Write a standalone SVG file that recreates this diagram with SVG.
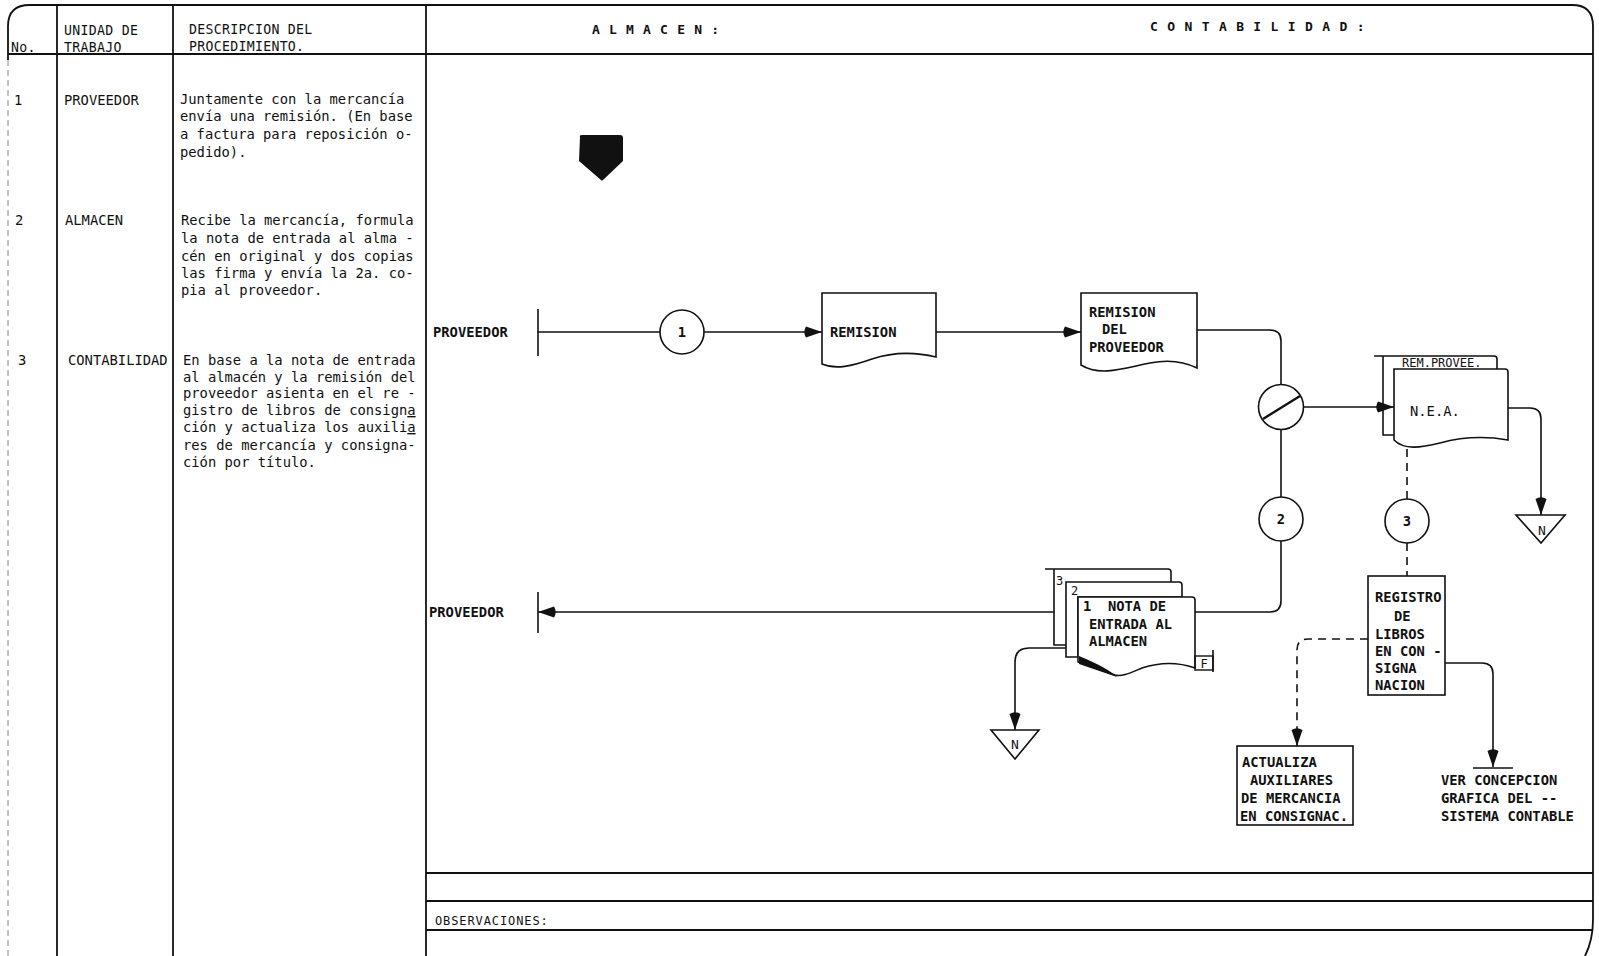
<svg xmlns="http://www.w3.org/2000/svg" width="1599" height="956" viewBox="0 0 1599 956">
<style>
.t{font-family:"DejaVu Sans Mono","Liberation Mono",monospace;font-size:13.8px;letter-spacing:0;fill:#111}
.s{font-size:12px}
.h{font-size:13.2px;letter-spacing:0.3px}
.b{font-weight:bold}
.ln{stroke:#111;stroke-width:1.6;fill:none}
.fr{stroke:#111;stroke-width:1.8;fill:none}
.dash{stroke-dasharray:8 6}
.doc{stroke:#111;stroke-width:1.6;fill:#fff}
</style>
<defs>
<marker id="ah" viewBox="0 0 18 12" refX="18" refY="6" markerWidth="18" markerHeight="12" markerUnits="userSpaceOnUse" orient="auto">
<path d="M18,6 L2,0.5 Q-1.5,6 2,11.5 Z" fill="#111"/>
</marker>
</defs>
<rect width="1599" height="956" fill="#fff"/>
<g id="frame">
<path class="fr" d="M8,60 V26 Q8,5 30,5 H1572 Q1593,5 1593,26 V920 Q1593,940 1585,956"/>
<line x1="8" y1="60" x2="8" y2="956" stroke="#888" stroke-width="1" stroke-dasharray="6 4"/>
<line class="fr" x1="57" y1="5" x2="57" y2="956"/>
<line class="fr" x1="173" y1="5" x2="173" y2="956"/>
<line class="fr" x1="426" y1="5" x2="426" y2="956"/>
<line class="fr" x1="8" y1="54" x2="1593" y2="54"/>
<line class="fr" x1="426" y1="873" x2="1593" y2="873"/>
<line class="fr" x1="426" y1="901" x2="1593" y2="901"/>
<line class="fr" x1="426" y1="930" x2="1593" y2="930"/>
</g>
<g id="header">
<text class="t h" x="11" y="52">No.</text>
<text class="t h" x="64" y="35">UNIDAD DE</text>
<text class="t h" x="64" y="52">TRABAJO</text>
<text class="t h" x="189" y="34">DESCRIPCION DEL</text>
<text class="t h" x="189" y="51">PROCEDIMIENTO.</text>
<text class="t b" x="592" y="34" style="font-size:13px;letter-spacing:9.2px">ALMACEN:</text>
<text class="t b" x="1150" y="31" style="font-size:13px;letter-spacing:9.4px">CONTABILIDAD:</text>
<text class="t s" x="435" y="925" style="letter-spacing:0.9px">OBSERVACIONES:</text>
</g>
<g id="rows">
<text class="t" x="14" y="105">1</text>
<text class="t" x="64" y="105">PROVEEDOR</text>
<text class="t" x="180" y="104">Juntamente con la mercancía</text>
<text class="t" x="180" y="121">envía una remisión. (En base</text>
<text class="t" x="180" y="139">a factura para reposición o-</text>
<text class="t" x="180" y="157">pedido).</text>
<text class="t" x="15" y="225">2</text>
<text class="t" x="65" y="225">ALMACEN</text>
<text class="t" x="181" y="225">Recibe la mercancía, formula</text>
<text class="t" x="181" y="243">la nota de entrada al alma -</text>
<text class="t" x="181" y="261">cén en original y dos copias</text>
<text class="t" x="181" y="278">las firma y envía la 2a. co-</text>
<text class="t" x="181" y="295">pia al proveedor.</text>
<text class="t" x="18" y="365">3</text>
<text class="t" x="68" y="365">CONTABILIDAD</text>
<text class="t" x="183" y="365">En base a la nota de entrada</text>
<text class="t" x="183" y="382">al almacén y la remisión del</text>
<text class="t" x="183" y="398">proveedor asienta en el re -</text>
<text class="t" x="183" y="415">gistro de libros de consign<tspan text-decoration="underline">a</tspan></text>
<text class="t" x="183" y="432">ción y actualiza los auxili<tspan text-decoration="underline">a</tspan></text>
<text class="t" x="183" y="450">res de mercancía y consigna-</text>
<text class="t" x="183" y="467">ción por título.</text>
</g>
<g id="connectors">
<line class="ln" x1="538" y1="309" x2="538" y2="356"/>
<line class="ln" x1="538" y1="332" x2="660" y2="332"/>
<line class="ln" x1="704" y1="332" x2="822" y2="332" marker-end="url(#ah)"/>
<line class="ln" x1="936" y1="332" x2="1081" y2="332" marker-end="url(#ah)"/>
<path class="ln" d="M1197,330 H1270 Q1281,330 1281,341 V384.5"/>
<line class="ln" x1="1303.5" y1="407" x2="1394" y2="407" marker-end="url(#ah)"/>
<line class="ln" x1="1281" y1="429.5" x2="1281" y2="497"/>
<path class="ln" d="M1281,541 V601 Q1281,612 1270,612 H1195"/>
<line class="ln" x1="1054" y1="612" x2="538" y2="612" marker-end="url(#ah)"/>
<line class="ln" x1="538" y1="592" x2="538" y2="633"/>
<path class="ln" d="M1066,648 H1029 Q1015,648 1015,662 V730" marker-end="url(#ah)"/>
<path class="ln" d="M1508,408 H1530 Q1541,408 1541,419 V515" marker-end="url(#ah)"/>
<line class="ln dash" x1="1407" y1="449" x2="1407" y2="499"/>
<line class="ln dash" x1="1407" y1="543" x2="1407" y2="576"/>
<path class="ln dash" d="M1368,639 H1308 Q1297,639 1297,650 V746" marker-end="url(#ah)"/>
<path class="ln" d="M1445,663 H1482 Q1493,663 1493,674 V767" marker-end="url(#ah)"/>
<line class="ln" x1="1473" y1="768" x2="1513" y2="768"/>
</g>
<g id="offpage">
<path d="M580,137 Q579,135 582,135 H620 Q623,135 623,138 V161 L603,180 Q602,181 601,180 L579,161 Z" fill="#111"/>
</g>
<g id="lbl-proveedor-1"><text class="t b" x="433" y="337">PROVEEDOR</text></g>
<g id="lbl-proveedor-2"><text class="t b" x="429" y="617">PROVEEDOR</text></g>
<g id="c1">
<circle class="doc" cx="682" cy="332" r="22"/>
<text class="t b" x="682" y="337" text-anchor="middle">1</text>
</g>
<g id="remision">
<path class="doc" d="M822,293 H936 V357 C915,352 893,352 872,359 C852,366 836,370 822,364 Z"/>
<text class="t b" x="830" y="337">REMISION</text>
</g>
<g id="remision-proveedor">
<path class="doc" d="M1081,293 H1197 V368 C1185,362 1170,359 1150,363 C1125,368 1100,377 1081,365 Z"/>
<text class="t b" x="1089" y="317">REMISION</text>
<text class="t b" x="1102" y="334">DEL</text>
<text class="t b" x="1089" y="352">PROVEEDOR</text>
</g>
<g id="cotejo">
<circle class="doc" cx="1281" cy="407" r="22.5"/>
<line x1="1263" y1="419" x2="1300" y2="396" stroke="#111" stroke-width="2.4"/>
</g>
<g id="c2">
<circle class="doc" cx="1281" cy="519" r="22"/>
<text class="t b" x="1281" y="524" text-anchor="middle">2</text>
</g>
<g id="nea">
<path class="ln" d="M1374,356 H1494 Q1497,356 1497,359 V369"/>
<path class="ln" d="M1383,356 V435 H1394"/>
<text class="t s" x="1402" y="367">REM.PROVEE.</text>
<path class="doc" d="M1394,369 H1505 Q1508,369 1508,372 V440 C1485,436 1462,437 1440,443 C1420,448 1404,450 1394,440 Z"/>
<text class="t" x="1410" y="416">N.E.A.</text>
</g>
<g id="n-right">
<path class="ln" d="M1516,515 H1565 L1541,543 Z"/>
<text class="t" x="1542" y="535" text-anchor="middle" style="font-size:13px">N</text>
</g>
<g id="c3">
<circle class="doc" cx="1407" cy="521" r="22"/>
<text class="t b" x="1407" y="526" text-anchor="middle">3</text>
</g>
<g id="nota-entrada">
<path class="ln" d="M1045,569 H1168 Q1171,569 1171,572 V582"/>
<path class="ln" d="M1054,569 V645 H1066"/>
<text class="t s" x="1056" y="585">3</text>
<path class="doc" d="M1066,582 H1179 Q1182,582 1182,585 V597 H1078 V657 H1066 Z"/>
<text class="t s" x="1071" y="595">2</text>
<path class="doc" d="M1078,597 H1192 Q1195,597 1195,600 V668 C1178,662 1160,662 1142,668 C1130,673 1122,677 1115,675 L1078,662 Z"/>
<path d="M1079,656 L1079,664 L1117,677 Q1108,668 1079,656 Z" fill="#111"/>
<rect x="1195" y="656" width="18" height="14" fill="none" stroke="#111" stroke-width="1.4"/>
<line class="ln" x1="1213" y1="650" x2="1213" y2="672"/>
<text class="t" x="1204" y="668" text-anchor="middle" style="font-size:12px">F</text>
<text class="t b" x="1083" y="611" xml:space="preserve">1  NOTA DE</text>
<text class="t b" x="1089" y="629">ENTRADA AL</text>
<text class="t b" x="1089" y="646">ALMACEN</text>
</g>
<g id="n-left">
<path class="ln" d="M991,730 H1039 L1015,759 Z"/>
<text class="t" x="1015" y="749" text-anchor="middle" style="font-size:13px">N</text>
</g>
<g id="registro">
<rect class="doc" x="1368" y="576" width="77" height="119"/>
<text class="t b" x="1375" y="602">REGISTRO</text>
<text class="t b" x="1394" y="621">DE</text>
<text class="t b" x="1375" y="639">LIBROS</text>
<text class="t b" x="1375" y="656">EN CON -</text>
<text class="t b" x="1375" y="673">SIGNA</text>
<text class="t b" x="1375" y="690">NACION</text>
</g>
<g id="actualiza">
<rect class="doc" x="1237" y="746" width="116" height="79"/>
<text class="t b" x="1242" y="767">ACTUALIZA</text>
<text class="t b" x="1250" y="785">AUXILIARES</text>
<text class="t b" x="1241" y="803">DE MERCANCIA</text>
<text class="t b" x="1240" y="821">EN CONSIGNAC.</text>
</g>
<g id="ver-concepcion">
<text class="t b" x="1441" y="785">VER CONCEPCION</text>
<text class="t b" x="1441" y="803">GRAFICA DEL --</text>
<text class="t b" x="1441" y="821">SISTEMA CONTABLE</text>
</g>
</svg>
